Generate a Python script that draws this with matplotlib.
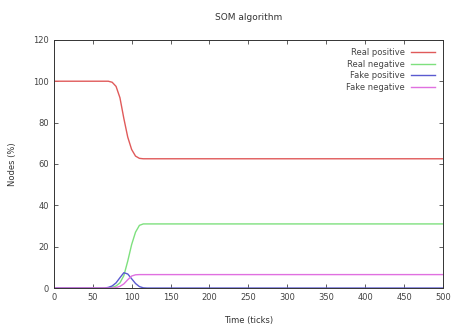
import matplotlib.pyplot as plt

# Values (time in ticks, nodes in %)
time = [0, 60, 65, 70, 75, 80, 85, 90, 95, 100, 105, 110, 115, 120, 500]
real_pos = [100, 100, 100, 100, 99.5, 97.5, 92, 82, 73, 67, 63.8, 62.7, 62.5, 62.5, 62.5]
real_neg = [0, 0, 0, 0, 0.3, 1, 2.5, 6, 13, 21, 27, 30.3, 31, 31, 31]
fake_pos = [0, 0, 0, 0.3, 1, 2.5, 5, 7.4, 6.8, 4.5, 2.2, 0.7, 0.1, 0, 0]
fake_neg = [0, 0, 0, 0, 0, 0.2, 0.8, 2, 4, 5.8, 6.4, 6.5, 6.5, 6.5, 6.5]

xticks = list(range(0, 501, 50))
yticks = list(range(0, 121, 20))

fig = plt.figure(figsize=(4.52, 3.24), dpi=100)
ax = fig.add_axes([0.119, 0.111, 0.861, 0.766])

ax.plot(time, real_pos, color='#e05a5a', lw=1.0, label='Real positive')
ax.plot(time, real_neg, color='#7ee07e', lw=1.0, label='Real negative')
ax.plot(time, fake_pos, color='#5a5ad0', lw=1.0, label='Fake positive')
ax.plot(time, fake_neg, color='#e070e0', lw=1.0, label='Fake negative')

ax.set_xlim(0, 500)
ax.set_ylim(0, 120)
ax.set_xticks(xticks)
ax.set_yticks(yticks)
ax.tick_params(direction='in', top=True, right=True, length=3, width=0.6,
               labelsize=6, colors='#444444')
for s in ax.spines.values():
    s.set_linewidth(0.7)
    s.set_color('#333333')

ax.set_title('SOM algorithm', fontsize=6.5, color='#333333', pad=14)
ax.set_xlabel('Time (ticks)', fontsize=6, color='#333333', labelpad=10)
ax.set_ylabel('Nodes (%)', fontsize=6, color='#333333', labelpad=12)

ax.legend(loc='upper right', frameon=False, markerfirst=False, fontsize=6,
          handlelength=2.8, labelspacing=0.3, borderaxespad=0.6,
          labelcolor='#444444')

plt.savefig('out.png', dpi=100)
